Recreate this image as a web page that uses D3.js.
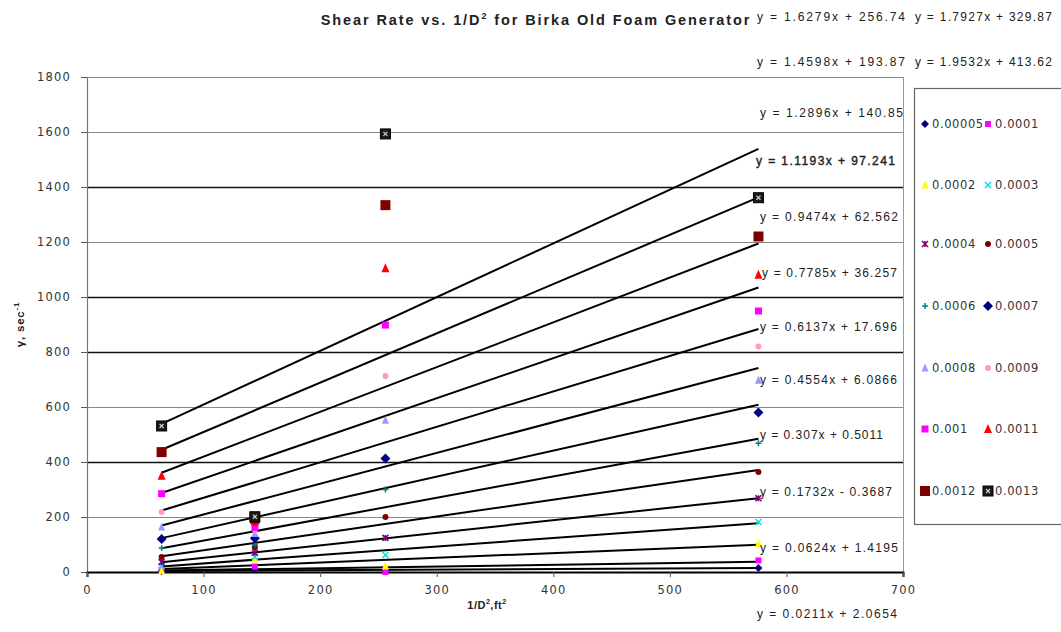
<!DOCTYPE html>
<html>
<head>
<meta charset="utf-8">
<script src="https://cdn.jsdelivr.net/npm/d3@7/dist/d3.min.js"></script>
<style>
  html, body { margin: 0; padding: 0; background: #fff; }
  svg { display: block; font-family: "Liberation Sans", Arial, sans-serif; }
</style>
</head>
<body>
<svg id="chart" width="1061" height="632"></svg>
<script>
// 1/D^2 (ft^-2) for the four generator diameters
const xValues = [64, 144, 256, 576];

// Series names (legend labels)
const seriesNames = ["0.00005", "0.0001", "0.0002", "0.0003", "0.0004", "0.0005", "0.0006",
                     "0.0007", "0.0008", "0.0009", "0.001", "0.0011", "0.0012", "0.0013"];

// Shear rate (1/sec) for each series at the four x values
const s00005 = [3, 9, 3, 15];
const s0001  = [8, 20, 0, 42];
const s0002  = [5, 48, 22, 104];
const s0003  = [22, 55, 62, 182];
const s0004  = [36, 70, 124, 268];
const s0005  = [55, 90, 200, 364];
const s0006  = [87, 100, 300, 468];
const s0007  = [120, 123, 413, 580];
const s0008  = [164, 140, 552, 697];
const s0009  = [218, 154, 713, 820];
const s001   = [285, 162, 898, 949];
const s0011  = [350, 184, 1105, 1081];
const s0012  = [436, 194, 1334, 1220];
const s0013  = [531, 201, 1593, 1361];

// Linear trendline coefficients (y = slope * x + intercept)
const slopes     = [0.0211, 0.0624, 0.1732, 0.307, 0.4554, 0.6137, 0.7785,
                    0.9474, 1.1193, 1.2896, 1.4598, 1.6279, 1.7927, 1.9532];
const intercepts = [2.0654, 1.4195, -0.3687, 0.5011, 6.0866, 17.696, 36.257,
                    62.562, 97.241, 140.85, 193.87, 256.74, 329.87, 413.62];

// Axis ticks
const xTicks = [0, 100, 200, 300, 400, 500, 600, 700];
const yTicks = [0, 200, 400, 600, 800, 1000, 1200, 1400, 1600, 1800];

const seriesValues = [s00005, s0001, s0002, s0003, s0004, s0005, s0006,
                      s0007, s0008, s0009, s001, s0011, s0012, s0013];

// ---- styling / layout ----
const markerStyles = [
  { shape: "diamond",  fill: "#000080", size: 6 },
  { shape: "square",   fill: "#ff00ff", size: 6 },
  { shape: "triangle", fill: "#ffff00", size: 7 },
  { shape: "cross",    stroke: "#00e0e8", size: 6 },
  { shape: "star",     stroke: "#800080", size: 6 },
  { shape: "circle",   fill: "#800000", size: 6 },
  { shape: "plus",     stroke: "#008080", size: 6 },
  { shape: "diamond",  fill: "#000080", size: 8 },
  { shape: "triangle", fill: "#9999ff", size: 7 },
  { shape: "circle",   fill: "#ff99cc", size: 6 },
  { shape: "square",   fill: "#ff00ff", size: 7 },
  { shape: "triangle", fill: "#ff0000", size: 8 },
  { shape: "square",   fill: "#800000", size: 10 },
  { shape: "boxed",    fill: "#1a1a1a", size: 10 }
];

// Trendline equation label anchors (left x, middle y, text width) in pixels
const eqLabelPos = [
  [757, 614, 140], [760, 548, 138], [760, 492, 132], [760, 435, 123],
  [760, 380, 137], [760, 327, 137], [762, 273, 135], [760, 217, 138],
  [756, 161, 139], [760, 113, 143], [757, 62, 148], [757, 17, 148],
  [915, 17, 137], [915, 62, 137]
];

const plot = { left: 87, right: 903, top: 77, bottom: 572 };

const svg = d3.select("#chart");

const x = d3.scaleLinear().domain([0, 700]).range([plot.left, plot.right]);
const y = d3.scaleLinear().domain([0, 1800]).range([plot.bottom, plot.top]);

const textColor = "#333";

// Title
const title = svg.append("text")
  .attr("x", 536).attr("y", 25)
  .attr("text-anchor", "middle")
  .attr("font-weight", "bold")
  .attr("font-size", 14.5)
  .attr("letter-spacing", 1.9)
  .attr("fill", "#222");
title.append("tspan").text("Shear Rate vs. 1/D");
title.append("tspan").attr("font-size", 9).attr("dy", -6).text("2");
title.append("tspan").attr("dy", 6).text(" for Birka Old Foam Generator");

// Horizontal gridlines (alternating rendering weight)
const darkLines = new Set([400, 800, 1000, 1400]);
svg.append("g").selectAll("line")
  .data(yTicks.filter(d => d > 0))
  .join("line")
  .attr("x1", x(0)).attr("x2", x(700))
  .attr("y1", d => Math.round(y(d)) + 0.5).attr("y2", d => Math.round(y(d)) + 0.5)
  .attr("stroke", d => darkLines.has(d) ? "#111" : "#8a8a8a")
  .attr("stroke-width", d => darkLines.has(d) ? 1.6 : 1.2);

// Right border of the plot area
svg.append("line")
  .attr("x1", x(700) + 0.5).attr("x2", x(700) + 0.5)
  .attr("y1", y(1800)).attr("y2", y(0))
  .attr("stroke", "#999").attr("stroke-width", 1);

// Y axis
const yAxis = svg.append("g")
  .attr("transform", `translate(${x(0)},0)`)
  .call(d3.axisLeft(y).tickValues(yTicks).tickFormat(d3.format("d")).tickSize(6).tickPadding(10));
yAxis.select(".domain").attr("stroke", "#777").attr("stroke-width", 1.2);
yAxis.selectAll(".tick line").attr("stroke", "#555");
yAxis.selectAll(".tick text")
  .attr("font-family", "'DejaVu Sans', sans-serif")
  .attr("font-size", 11.5).attr("letter-spacing", 1.2).attr("fill", textColor);

// X axis
const xAxis = svg.append("g")
  .attr("transform", `translate(0,${y(0)})`)
  .call(d3.axisBottom(x).tickValues(xTicks).tickFormat(d3.format("d")).tickSize(5).tickPadding(9));
xAxis.select(".domain").attr("stroke", "#000").attr("stroke-width", 2);
xAxis.selectAll(".tick line").attr("stroke", "#555");
xAxis.selectAll(".tick text")
  .attr("font-family", "'DejaVu Sans', sans-serif")
  .attr("font-size", 11.5).attr("letter-spacing", 1.2).attr("fill", textColor);

// Axis titles
const yTitle = svg.append("text")
  .attr("transform", `translate(24,${(plot.top + plot.bottom) / 2}) rotate(-90)`)
  .attr("text-anchor", "middle")
  .attr("font-weight", "bold").attr("font-size", 11.5).attr("letter-spacing", 0.8).attr("fill", "#222");
yTitle.append("tspan").text("γ, sec");
yTitle.append("tspan").attr("font-size", 8).attr("dy", -5).text("-1");

const xTitle = svg.append("text")
  .attr("x", 487).attr("y", 609)
  .attr("text-anchor", "middle")
  .attr("font-weight", "bold").attr("font-size", 11).attr("letter-spacing", 0.5).attr("fill", "#222");
xTitle.append("tspan").text("1/D");
xTitle.append("tspan").attr("font-size", 7).attr("dy", -5).text("2");
xTitle.append("tspan").attr("dy", 5).text(",ft");
xTitle.append("tspan").attr("font-size", 7).attr("dy", -5).text("2");

// Trendlines over the measured range
const xMin = d3.min(xValues), xMax = d3.max(xValues);
svg.append("g").selectAll("line")
  .data(slopes.map((m, i) => ({ m, b: intercepts[i] })))
  .join("line")
  .attr("x1", x(xMin)).attr("y1", d => y(d.m * xMin + d.b))
  .attr("x2", x(xMax)).attr("y2", d => y(d.m * xMax + d.b))
  .attr("stroke", "#000").attr("stroke-width", 2);

// Marker drawing helper
function drawMarker(g, st, cx, cy) {
  const s = st.size, h = s / 2;
  switch (st.shape) {
    case "diamond":
      g.append("path").attr("d", `M${cx},${cy - h - 1}L${cx + h + 1},${cy}L${cx},${cy + h + 1}L${cx - h - 1},${cy}Z`)
        .attr("fill", st.fill);
      break;
    case "square":
      g.append("rect").attr("x", cx - h).attr("y", cy - h).attr("width", s).attr("height", s)
        .attr("fill", st.fill);
      break;
    case "triangle":
      g.append("path").attr("d", `M${cx},${cy - h - 1}L${cx + h},${cy + h}L${cx - h},${cy + h}Z`)
        .attr("fill", st.fill);
      break;
    case "circle":
      g.append("circle").attr("cx", cx).attr("cy", cy).attr("r", h).attr("fill", st.fill);
      break;
    case "cross":
      g.append("path").attr("d", `M${cx - h},${cy - h}L${cx + h},${cy + h}M${cx + h},${cy - h}L${cx - h},${cy + h}`)
        .attr("stroke", st.stroke).attr("stroke-width", 1.5).attr("fill", "none");
      break;
    case "star":
      g.append("path").attr("d", `M${cx - h},${cy - h}L${cx + h},${cy + h}M${cx + h},${cy - h}L${cx - h},${cy + h}M${cx},${cy - h}L${cx},${cy + h}`)
        .attr("stroke", st.stroke).attr("stroke-width", 1.5).attr("fill", "none");
      break;
    case "plus":
      g.append("path").attr("d", `M${cx - h},${cy}L${cx + h},${cy}M${cx},${cy - h}L${cx},${cy + h}`)
        .attr("stroke", st.stroke).attr("stroke-width", 1.5).attr("fill", "none");
      break;
    case "boxed":
      g.append("rect").attr("x", cx - h).attr("y", cy - h).attr("width", s).attr("height", s)
        .attr("fill", st.fill).attr("stroke", "#000").attr("stroke-width", 1);
      g.append("path").attr("d", `M${cx - 2},${cy - 2}L${cx + 2},${cy + 2}M${cx + 2},${cy - 2}L${cx - 2},${cy + 2}`)
        .attr("stroke", "#d8c8d0").attr("stroke-width", 1.2);
      break;
  }
}

// Data markers
const markerG = svg.append("g");
seriesValues.forEach((vals, i) => {
  vals.forEach((v, j) => drawMarker(markerG, markerStyles[i], x(xValues[j]), y(v)));
});

// Trendline equations
function fmtEq(m, b) {
  const sign = b < 0 ? "-" : "+";
  return `y = ${m}x ${sign} ${Math.abs(b)}`;
}
svg.append("g").selectAll("text")
  .data(slopes.map((m, i) => ({ m, b: intercepts[i], p: eqLabelPos[i], i })))
  .join("text")
  .attr("x", d => d.p[0]).attr("y", d => d.p[1])
  .attr("dominant-baseline", "central")
  .attr("font-size", 12)
  .attr("stroke", d => d.i === 8 ? "#222" : "none")
  .attr("stroke-width", 0.4)
  .attr("textLength", d => d.p[2]).attr("lengthAdjust", "spacing")
  .attr("fill", "#222")
  .text(d => fmtEq(d.m, d.b));

// Legend
const legend = svg.append("g");
legend.append("rect")
  .attr("x", 914.5).attr("y", 88.5).attr("width", 160).attr("height", 436)
  .attr("fill", "#fff").attr("stroke", "#666").attr("stroke-width", 1.2);
const rowY = [124, 185, 244, 306, 368, 429, 491];
seriesNames.forEach((name, i) => {
  const row = Math.floor(i / 2), col = i % 2;
  const mx = col === 0 ? 925 : 988;
  const my = rowY[row];
  drawMarker(legend, markerStyles[i], mx, my);
  legend.append("text")
    .attr("x", mx + 7).attr("y", my)
    .attr("dominant-baseline", "central")
    .attr("font-family", "'DejaVu Sans', sans-serif")
    .attr("font-size", 11.5).attr("letter-spacing", 0.6)
    .attr("fill", textColor)
    .text(name);
});
</script>
</body>
</html>
